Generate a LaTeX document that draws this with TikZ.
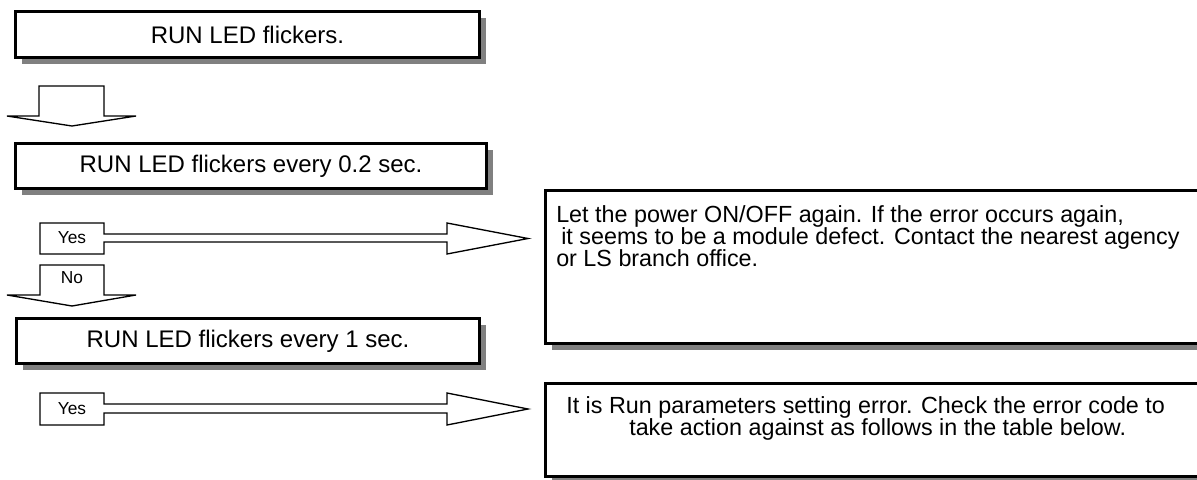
\documentclass[tikz,border=0pt]{standalone}
\usepackage{fontspec}
\setmainfont{Liberation Sans}
\usetikzlibrary{shadows}
\definecolor{shadowgray}{RGB}{128,128,128}
\tikzset{
  flowbox/.style={draw, line width=2.25pt, fill=white,
    drop shadow={shadow xshift=4.5pt, shadow yshift=-4.5pt, opacity=1, fill=shadowgray},
    inner sep=0pt, font=\fontsize{18}{21}\selectfont},
  blockarrow/.style={draw, line width=1pt, fill=white, line join=miter},
  lbl/.style={font=\fontsize{13}{15}\selectfont, inner sep=0pt},
  txt/.style={font=\fontsize{17.5}{21}\selectfont, inner sep=0pt, anchor=base west}
}
\begin{document}
\begin{tikzpicture}[x=0.75pt,y=-0.75pt]
\useasboundingbox (0,0) rectangle (1197,479);
\clip (0,0) rectangle (1197,479);
% left column boxes
\node[flowbox, minimum width=348pt, minimum height=34.5pt] (b1) at (247.5,34.5) {RUN LED flickers.};
\draw[blockarrow] (39,86) -- (104,86) -- (104,116) -- (136,116) -- (72,126) -- (7,116) -- (39,116) -- cycle;
\node[flowbox, minimum width=353.25pt, minimum height=33.75pt] (b2) at (251,166) {RUN LED flickers every 0.2 sec.};
% Yes arrow 1
\draw[blockarrow] (40,223) -- (104,223) -- (104,234) -- (447,234) -- (447,223) -- (528,238.5) -- (447,254) -- (447,242) -- (104,242) -- (104,254) -- (40,254) -- cycle;
\node[lbl] (yes1) at (72,238) {Yes};
% No arrow
\draw[blockarrow] (40,265) -- (104,265) -- (104,295) -- (136,295) -- (72,306) -- (7,295) -- (40,295) -- cycle;
\node[lbl] (no) at (72,278) {No};
\node[flowbox, minimum width=347.25pt, minimum height=33.75pt] (b3) at (248,341) {RUN LED flickers every 1 sec.};
% Yes arrow 2
\draw[blockarrow] (40,393) -- (104,393) -- (104,404) -- (447,404) -- (447,393) -- (528,409) -- (447,425) -- (447,413) -- (104,413) -- (104,425) -- (40,425) -- cycle;
\node[lbl] (yes2) at (72,409) {Yes};
% right boxes
\node[flowbox, minimum width=502pt, minimum height=114.75pt] (r1) at (880.25,267) {};
\node[txt] (r1a) at (556,222) {Let the power ON/OFF again. If the error occurs again,};
\node[txt] (r1b) at (561,244) {it seems to be a module defect. Contact the nearest agency};
\node[txt] (r1c) at (556,266) {or LS branch office.};
\node[flowbox, minimum width=502pt, minimum height=69.4pt] (r2) at (880.25,429.75) {};
\node[txt] (r2a) at (566,413) {It is Run parameters setting error. Check the error code to};
\node[txt] (r2b) at (629,435) {take action against as follows in the table below.};
\end{tikzpicture}
\end{document}
